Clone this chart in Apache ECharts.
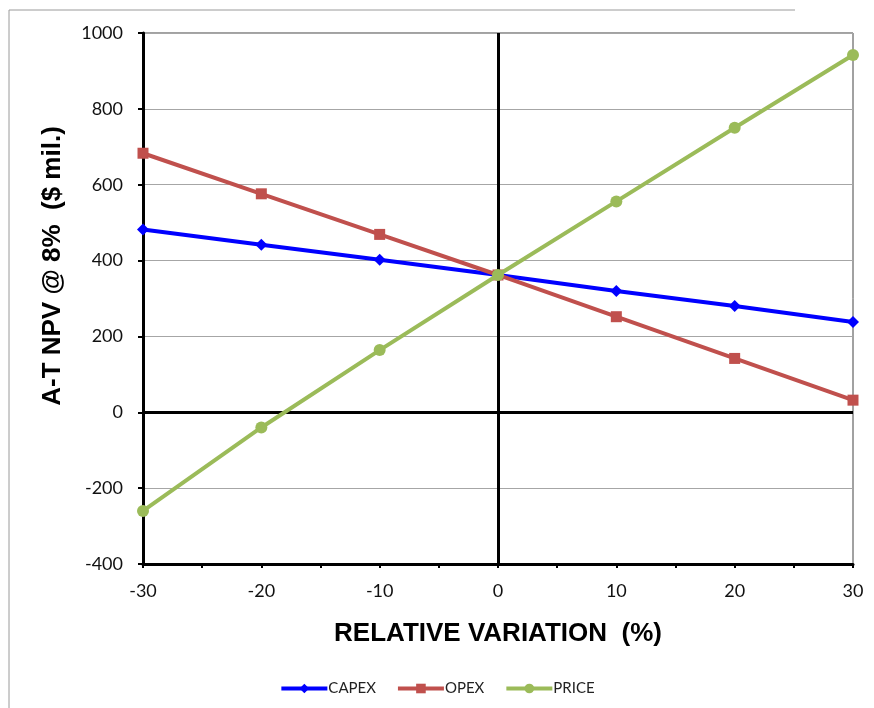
<!DOCTYPE html>
<html>
<head>
<meta charset="utf-8">
<script src="https://cdn.jsdelivr.net/npm/echarts@6/dist/echarts.min.js"></script>
<style>
  html, body { margin: 0; padding: 0; background: #fff; }
  #chart { width: 874px; height: 708px; }
</style>
</head>
<body>
<div id="chart"></div>
<script>
// Relative variation of each input (%)
const variation = [-30, -20, -10, 0, 10, 20, 30];
// After-tax NPV at 8% ($ mil.) for each sensitivity case
const capex = [482, 442, 402, 362, 320, 280, 238];
const opex  = [683, 576, 469, 362, 252, 142, 32];
const price = [-260, -40, 164, 362, 556, 750, 942];

const pairs = vals => variation.map((v, i) => [v, vals[i]]);

const chart = echarts.init(document.getElementById('chart'));
const tickFont = 'Lato, "Open Sans", "Liberation Sans", sans-serif';
const titleFont = '"Liberation Sans Narrow", "Liberation Sans", Arial, sans-serif';

chart.setOption({
  animation: false,
  backgroundColor: '#fff',
  graphic: [
    {
      type: 'polyline',
      shape: { points: [[9, 708], [9, 10], [795, 10]] },
      style: { stroke: '#9a9a9a', lineWidth: 1, fill: null },
      silent: true
    },
    {
      // vertical value-axis title
      type: 'text',
      x: 53, y: 266, rotation: Math.PI / 2,
      style: {
        text: 'A-T NPV @ 8%  ($ mil.)',
        font: 'bold 26px ' + titleFont,
        fill: '#000', align: 'center', verticalAlign: 'middle'
      },
      silent: true
    }
  ],
  grid: { left: 143, right: 21, top: 33, bottom: 144, show: true, borderColor: '#444', borderWidth: 1 },
  xAxis: {
    type: 'value', min: -30, max: 30, interval: 10,
    name: 'RELATIVE VARIATION  (%)', nameLocation: 'middle', nameGap: 57,
    nameTextStyle: { fontFamily: titleFont, fontWeight: 'bold', fontSize: 26, color: '#000' },
    axisLine: { onZero: false, lineStyle: { color: '#000', width: 3 } },
    axisTick: { show: true, length: 4, inside: false, lineStyle: { color: '#000', width: 2 } },
    minorTick: { show: true, splitNumber: 2, length: 4, lineStyle: { color: '#000', width: 2 } },
    axisLabel: { fontFamily: tickFont, fontSize: 18, color: '#111', margin: 18 },
    splitLine: { show: false }
  },
  yAxis: {
    type: 'value', min: -400, max: 1000, interval: 200,
    axisLine: { show: true, onZero: false, lineStyle: { color: '#000', width: 3 } },
    axisTick: { show: true, length: 5, lineStyle: { color: '#000', width: 2 } },
    axisLabel: { fontFamily: tickFont, fontSize: 18, color: '#111', margin: 20, formatter: v => String(v) },
    splitLine: { show: true, lineStyle: { color: '#a6a6a6', width: 1 } }
  },
  legend: {
    top: 676, left: 'center',
    itemWidth: 46, itemHeight: 12, itemGap: 20,
    lineStyle: { width: 4 },
    textStyle: { fontFamily: tickFont, fontSize: 15, color: '#222', padding: [0, 0, 0, -4] },
    data: ['CAPEX', 'OPEX', 'PRICE']
  },
  series: [
    {
      name: 'CAPEX', type: 'line', data: pairs(capex),
      symbol: 'diamond', symbolSize: 12,
      lineStyle: { color: '#0000ff', width: 4 },
      itemStyle: { color: '#0000ff' },
      markLine: {
        silent: true, symbol: 'none', label: { show: false },
        lineStyle: { color: '#000', width: 3, type: 'solid' },
        data: [{ yAxis: 0 }, { xAxis: 0 }]
      },
      z: 3
    },
    {
      name: 'OPEX', type: 'line', data: pairs(opex),
      symbol: 'rect', symbolSize: 11,
      lineStyle: { color: '#c0504d', width: 4 },
      itemStyle: { color: '#c0504d' },
      z: 4
    },
    {
      name: 'PRICE', type: 'line', data: pairs(price),
      symbol: 'circle', symbolSize: 12,
      lineStyle: { color: '#9bbb59', width: 4 },
      itemStyle: { color: '#9bbb59' },
      z: 5
    }
  ]
});
</script>
</body>
</html>
